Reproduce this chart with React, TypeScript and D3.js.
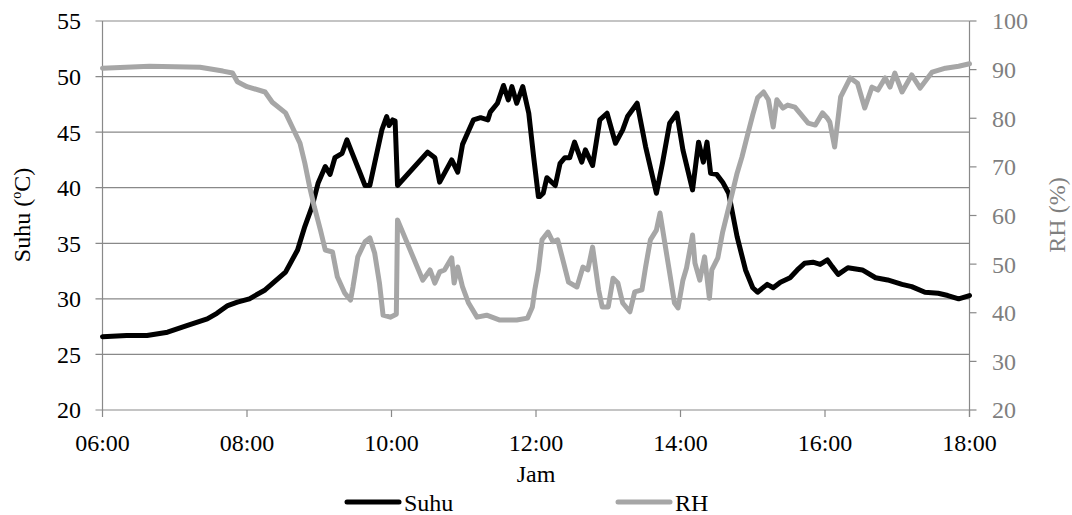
import React from 'react';
import * as d3 from 'd3';

// Suhu (°C) readings
const suhu: [string, number][] = [
  ['06:00', 26.6], ['06:20', 26.7], ['06:37', 26.7], ['06:54', 27.0], ['07:10', 27.6],
  ['07:27', 28.2], ['07:35', 28.7], ['07:44', 29.4], ['07:52', 29.7], ['08:02', 30.0],
  ['08:15', 30.8], ['08:32', 32.4], ['08:42', 34.4], ['08:48', 36.5], ['08:54', 38.3],
  ['08:59', 40.4], ['09:05', 41.9], ['09:09', 41.2], ['09:13', 42.7], ['09:19', 43.1],
  ['09:23', 44.3], ['09:27', 43.2], ['09:34', 41.3], ['09:38', 40.2], ['09:42', 40.2],
  ['09:46', 42.2], ['09:52', 45.2], ['09:56', 46.4], ['09:58', 45.6], ['10:01', 46.1],
  ['10:03', 46.0], ['10:05', 40.2], ['10:30', 43.2], ['10:36', 42.7], ['10:40', 40.5],
  ['10:50', 42.5], ['10:55', 41.4], ['10:59', 43.9], ['11:08', 46.1], ['11:14', 46.3],
  ['11:20', 46.1], ['11:22', 46.8], ['11:28', 47.6], ['11:33', 49.2], ['11:37', 47.9],
  ['11:40', 49.1], ['11:44', 47.6], ['11:49', 49.1], ['11:54', 46.7], ['11:58', 42.8],
  ['12:02', 39.2], ['12:03', 39.2], ['12:06', 39.5], ['12:09', 40.9], ['12:16', 40.2],
  ['12:20', 42.2], ['12:24', 42.7], ['12:28', 42.7], ['12:32', 44.1], ['12:38', 42.3],
  ['12:41', 43.4], ['12:47', 42.0], ['12:53', 46.1], ['12:59', 46.7], ['13:06', 44.0],
  ['13:12', 45.2], ['13:16', 46.4], ['13:24', 47.6], ['13:31', 43.7], ['13:40', 39.5],
  ['13:45', 42.2], ['13:51', 45.8], ['13:57', 46.7], ['14:02', 43.4], ['14:10', 39.8],
  ['14:15', 44.1], ['14:19', 42.3], ['14:22', 44.1], ['14:25', 41.3], ['14:30', 41.2],
  ['14:35', 40.5], ['14:40', 39.5], ['14:47', 35.6], ['14:54', 32.6], ['15:00', 31.0],
  ['15:04', 30.6], ['15:12', 31.3], ['15:17', 31.0], ['15:23', 31.5], ['15:31', 31.9],
  ['15:37', 32.6], ['15:43', 33.2], ['15:50', 33.3], ['15:56', 33.1], ['16:02', 33.5],
  ['16:06', 32.9], ['16:11', 32.2], ['16:19', 32.8], ['16:31', 32.6], ['16:42', 31.9],
  ['16:52', 31.7], ['17:04', 31.3], ['17:12', 31.1], ['17:23', 30.6], ['17:34', 30.5],
  ['17:42', 30.3], ['17:51', 30.0], ['18:00', 30.3],
];

// RH (%) readings
const rh: [string, number][] = [
  ['06:00', 90.3], ['06:39', 90.7], ['07:21', 90.5], ['07:40', 89.7], ['07:48', 89.3],
  ['07:52', 87.5], ['08:00', 86.5], ['08:15', 85.4], ['08:21', 83.3], ['08:32', 81.1],
  ['08:38', 78.0], ['08:44', 74.9], ['08:48', 70.8], ['08:52', 65.9], ['08:56', 61.7],
  ['09:01', 57.0], ['09:05', 52.9], ['09:11', 52.5], ['09:15', 47.4], ['09:21', 44.1],
  ['09:26', 42.6], ['09:28', 45.3], ['09:32', 51.5], ['09:38', 54.6], ['09:42', 55.4],
  ['09:46', 52.3], ['09:50', 46.1], ['09:53', 39.5], ['09:59', 39.1], ['10:04', 39.7],
  ['10:05', 59.1], ['10:26', 46.7], ['10:32', 48.8], ['10:36', 46.1], ['10:40', 48.4],
  ['10:44', 48.8], ['10:50', 51.3], ['10:52', 46.1], ['10:55', 49.4], ['10:59', 45.3],
  ['11:04', 42.0], ['11:11', 39.1], ['11:19', 39.5], ['11:30', 38.5], ['11:44', 38.5],
  ['11:53', 38.9], ['11:57', 41.2], ['11:59', 44.7], ['12:02', 48.8], ['12:05', 55.0],
  ['12:10', 56.6], ['12:14', 54.6], ['12:18', 55.0], ['12:23', 50.2], ['12:27', 46.3],
  ['12:34', 45.3], ['12:39', 49.4], ['12:43', 48.8], ['12:47', 53.5], ['12:52', 44.7],
  ['12:55', 41.2], ['13:00', 41.2], ['13:04', 47.1], ['13:08', 46.1], ['13:12', 42.0],
  ['13:18', 40.2], ['13:22', 44.3], ['13:28', 44.7], ['13:31', 49.4], ['13:35', 55.0],
  ['13:40', 57.0], ['13:43', 60.5], ['13:47', 54.3], ['13:51', 48.2], ['13:55', 42.0],
  ['13:58', 41.0], ['14:02', 46.7], ['14:05', 49.2], ['14:10', 56.0], ['14:12', 50.2],
  ['14:16', 46.7], ['14:20', 51.5], ['14:24', 43.0], ['14:26', 48.8], ['14:31', 51.3],
  ['14:35', 56.6], ['14:41', 62.6], ['14:47', 68.7], ['14:51', 72.0], ['14:55', 75.9],
  ['15:00', 80.7], ['15:04', 84.2], ['15:09', 85.4], ['15:13', 83.8], ['15:17', 78.2],
  ['15:20', 83.8], ['15:25', 82.1], ['15:29', 82.7], ['15:35', 82.3], ['15:39', 81.1],
  ['15:46', 79.0], ['15:52', 78.6], ['15:58', 81.1], ['16:02', 80.0], ['16:04', 79.2],
  ['16:08', 74.1], ['16:13', 84.4], ['16:21', 88.3], ['16:27', 87.2], ['16:33', 82.1],
  ['16:39', 86.4], ['16:44', 85.8], ['16:50', 88.3], ['16:54', 86.4], ['16:58', 89.3],
  ['17:04', 85.4], ['17:12', 88.9], ['17:19', 86.2], ['17:29', 89.5], ['17:40', 90.3],
  ['17:51', 90.7], ['18:00', 91.2],
];

const xTicks = ['06:00', '08:00', '10:00', '12:00', '14:00', '16:00', '18:00'];
const leftTicks = [20, 25, 30, 35, 40, 45, 50, 55];
const rightTicks = [20, 30, 40, 50, 60, 70, 80, 90, 100];

const parse = d3.timeParse('%H:%M');
const font = "'Liberation Serif', 'Times New Roman', Times, serif";
const gridColor = '#898989';
const rhColor = '#a6a6a6';
const txt = { fontFamily: font, fontSize: 24 };

export default function App() {
  const left = 102.5, right = 969.5, top = 21, bottom = 410;

  const x = d3.scaleTime()
    .domain([parse('06:00')!, parse('18:00')!])
    .range([left, right]);
  const yL = d3.scaleLinear().domain([20, 55]).range([bottom, top]);
  const yR = d3.scaleLinear().domain([20, 100]).range([bottom, top]);

  const lineL = d3.line<[string, number]>()
    .x(d => x(parse(d[0])!))
    .y(d => yL(d[1]));
  const lineR = d3.line<[string, number]>()
    .x(d => x(parse(d[0])!))
    .y(d => yR(d[1]));

  return (
    <svg width={1072} height={515} style={{ position: 'absolute', left: 0, top: 0, background: '#fff', fontFamily: font }}>
      {/* gridlines + left ticks */}
      {leftTicks.map(t => (
        <g key={t}>
          <line x1={left - 7} x2={right} y1={yL(t)} y2={yL(t)} stroke={gridColor} strokeWidth={1.2} />
          <text x={81} y={yL(t)} dy="0.35em" textAnchor="end" style={txt} fill="#000">{t}</text>
        </g>
      ))}
      {/* right ticks */}
      {rightTicks.map(t => (
        <g key={t}>
          <line x1={right} x2={right + 7} y1={yR(t)} y2={yR(t)} stroke={gridColor} strokeWidth={1.2} />
          <text x={992} y={yR(t)} dy="0.35em" textAnchor="start" style={txt} fill="#7f7f7f">{t}</text>
        </g>
      ))}
      {/* axes */}
      <line x1={left} x2={left} y1={top} y2={bottom} stroke={gridColor} strokeWidth={1.2} />
      <line x1={right} x2={right} y1={top} y2={bottom + 7} stroke={gridColor} strokeWidth={1.2} />
      {xTicks.map(t => (
        <g key={t}>
          <line x1={x(parse(t)!)} x2={x(parse(t)!)} y1={bottom} y2={bottom + 7} stroke={gridColor} strokeWidth={1.2} />
          <text x={x(parse(t)!)} y={451} textAnchor="middle" style={txt} fill="#000">{t}</text>
        </g>
      ))}

      {/* series */}
      <path d={lineL(suhu) || ''} fill="none" stroke="#000" strokeWidth={5} strokeLinejoin="round" strokeLinecap="round" />
      <path d={lineR(rh) || ''} fill="none" stroke={rhColor} strokeWidth={5} strokeLinejoin="round" strokeLinecap="round" />

      {/* axis titles */}
      <text transform="translate(30,215) rotate(-90)" textAnchor="middle" style={txt} fill="#000">
        Suhu (<tspan style={{ fontSize: 14 }} dy={-9}>o</tspan><tspan dy={9}>C)</tspan>
      </text>
      <text transform="translate(1065,215) rotate(-90)" textAnchor="middle" style={txt} fill="#7f7f7f">RH (%)</text>
      <text x={536} y={482} textAnchor="middle" style={txt} fill="#000">Jam</text>

      {/* legend */}
      <line x1={347} x2={399} y1={502} y2={502} stroke="#000" strokeWidth={5} strokeLinecap="round" />
      <text x={404} y={511} style={txt} fill="#000">Suhu</text>
      <line x1={618} x2={670} y1={502} y2={502} stroke={rhColor} strokeWidth={5} strokeLinecap="round" />
      <text x={675} y={511} style={txt} fill="#000">RH</text>
    </svg>
  );
}
